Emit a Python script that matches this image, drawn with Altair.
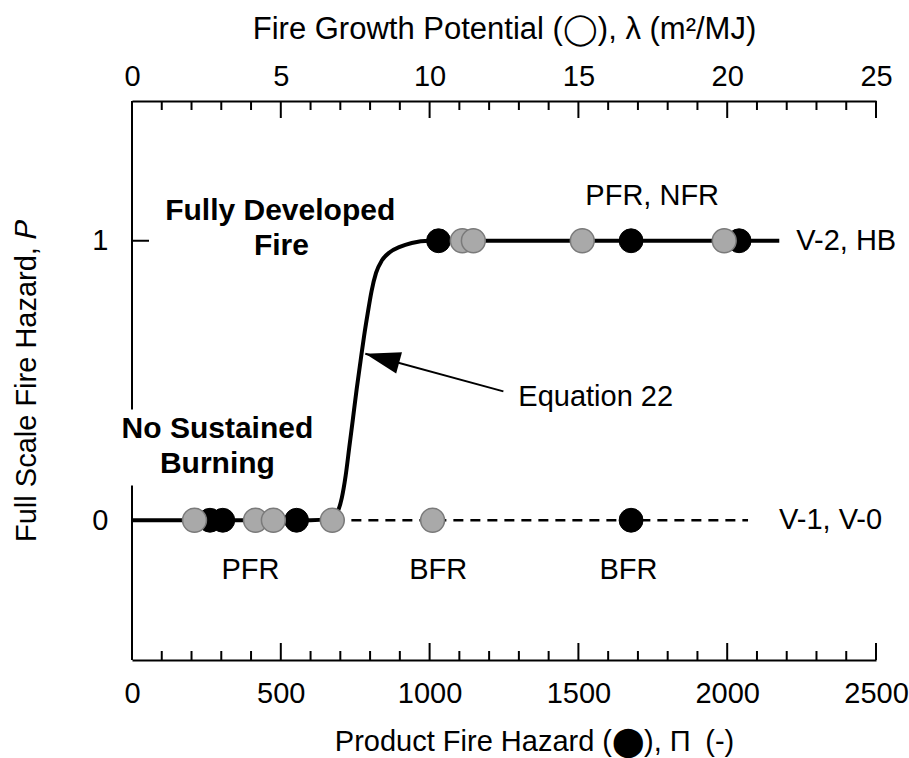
import math
import altair as alt
import pandas as pd

FONT = "Liberation Sans"

# ---------------- data ----------------
# Equation 22 curve (Product Fire Hazard Π, Full scale hazard P)
curve_pi = [0, 600, 660, 690, 705, 718, 730, 742, 755, 768, 780, 792, 805, 820, 840, 865, 900, 940, 1000, 2175]
curve_p = [0, 0, 0.005, 0.03, 0.08, 0.16, 0.26, 0.36, 0.47, 0.57, 0.66, 0.74, 0.82, 0.885, 0.93, 0.958, 0.978, 0.992, 1.0, 1.0]

# dashed "no fire" line
dash_pi = [680, 2070]
dash_p = [0, 0]

# Product Fire Hazard points (black, bottom axis)
black_pi = [262, 305, 553, 1677, 1030, 1677, 2040]
black_p = [0, 0, 0, 0, 1, 1, 1]

# Fire Growth Potential points (grey, top axis)
gray_lam = [2.1, 4.15, 4.75, 6.73, 10.1, 11.1, 11.47, 15.13, 19.9]
gray_p = [0, 0, 0, 0, 0, 1, 1, 1, 1]

# annotations
note_text = ["Fully Developed", "Fire", "No Sustained", "Burning"]
note_pi = [498, 502, 287, 287]
note_p = [1.105, 0.98, 0.325, 0.2]

lab_text = ["PFR", "BFR", "BFR", "PFR, NFR"]
lab_pi = [398, 1029, 1668, 1748]
lab_p = [-0.179, -0.179, -0.179, 1.16]

side_text = ["V-2, HB", "V-1, V-0", "Equation 22"]
side_pi = [2232, 2174, 1298]
side_p = [1.0, 0.0, 0.44]

arrow_from = (1248, 0.461)
arrow_to = (784, 0.596)

# axis ticks
pi_major = [0, 500, 1000, 1500, 2000, 2500]
pi_minor = [v for v in range(100, 2500, 100) if v % 500]
lam_major = [0, 5, 10, 15, 20, 25]
lam_minor = [v for v in range(1, 25) if v % 5]
p_ticks = [0, 1]
# left axis line, interrupted behind "No Sustained Burning"
axis_seg_a = [1.5, 0.396]
axis_seg_b = [0.124, -0.5]

# ---------------- layout ----------------
W, H = 744, 559
LEFT, TOP = 132, 101
MAJ, MIN = 17, 9
FS = 29

x_pi = alt.Scale(domain=[0, 2500], nice=False, zero=False)
x_lam = alt.Scale(domain=[0, 25], nice=False, zero=False)
y_sc = alt.Scale(domain=[-0.5, 1.5], nice=False, zero=False)

curve_df = pd.DataFrame({"Pi": curve_pi, "P": curve_p})
dash_df = pd.DataFrame({"Pi": dash_pi, "P": dash_p})
black_df = pd.DataFrame({"Pi": black_pi, "P": black_p})
gray_df = pd.DataFrame({"lam": gray_lam, "P": gray_p})
note_df = pd.DataFrame({"t": note_text, "Pi": note_pi, "P": note_p})
lab_df = pd.DataFrame({"t": lab_text, "Pi": lab_pi, "P": lab_p})
side_df = pd.DataFrame({"t": side_text, "Pi": side_pi, "P": side_p})
arrow_df = pd.DataFrame({"x0": [arrow_from[0]], "y0": [arrow_from[1]],
                         "x1": [arrow_to[0]], "y1": [arrow_to[1]]})
seg_df = pd.DataFrame({"a": [axis_seg_a[0], axis_seg_b[0]], "b": [axis_seg_a[1], axis_seg_b[1]]})

bottom_axis = alt.Axis(
    orient="bottom", values=pi_major, format="d", ticks=False, tickSize=0,
    domain=True, domainColor="black", domainWidth=2, grid=False,
    labelFont=FONT, labelFontSize=FS, labelColor="black", labelPadding=19,
    labelFlush=False, labelOverlap=False,
    title="Product Fire Hazard (⬤), Π\u2002(-)", titleFont=FONT, titleFontSize=FS,
    titleFontWeight="normal", titleColor="black", titleX=402, titleY=81,
    titleAlign="center", titleBaseline="middle",
)
top_axis = alt.Axis(
    orient="top", values=lam_major, format="d", ticks=False, tickSize=0,
    domain=True, domainColor="black", domainWidth=2, grid=False,
    labelFont=FONT, labelFontSize=FS, labelColor="black", labelPadding=10,
    labelFlush=False, labelOverlap=False,
    title="Fire Growth Potential (◯), λ (m²/MJ)", titleFont=FONT, titleFontSize=31,
    titleFontWeight="normal", titleColor="black", titleX=W / 2, titleY=-72,
    titleAlign="center", titleBaseline="middle",
)
left_axis = alt.Axis(
    orient="left", values=p_ticks, format="d", ticks=False, tickSize=0,
    domain=False, grid=False,
    labelFont=FONT, labelFontSize=FS, labelColor="black", labelPadding=24,
    labelFlush=False,
    title="Full Scale Fire Hazard, 𝑃", titleFont=FONT, titleFontSize=FS,
    titleFontWeight="normal", titleColor="black", titleAngle=270,
    titleX=-106, titleY=H / 2, titleAlign="center", titleBaseline="middle",
)


def XP(f="Pi"):
    return alt.X(f"{f}:Q", scale=x_pi, axis=bottom_axis)


def YP(f="P"):
    return alt.Y(f"{f}:Q", scale=y_sc, axis=left_axis)


def XL(f="lam"):
    return alt.X(f"{f}:Q", scale=x_lam, axis=top_axis)


curve = alt.Chart(curve_df).mark_line(color="black", strokeWidth=4, interpolate="monotone").encode(
    x=XP(), y=YP(), order="Pi:Q",
)
dash = alt.Chart(dash_df).mark_line(color="black", strokeWidth=2.5, strokeDash=[10, 7]).encode(
    x=XP(), y=YP()
)
tick_b_major = alt.Chart(pd.DataFrame({"v": pi_major})).mark_rule(color="black", strokeWidth=2).encode(
    x=XP("v"), y=alt.value(H), y2=alt.value(H - MAJ))
tick_b_minor = alt.Chart(pd.DataFrame({"v": pi_minor})).mark_rule(color="black", strokeWidth=2).encode(
    x=XP("v"), y=alt.value(H), y2=alt.value(H - MIN))
left_line = alt.Chart(seg_df).mark_rule(color="black", strokeWidth=2).encode(
    x=alt.value(0), y=YP("a"), y2="b:Q")
left_ticks = alt.Chart(pd.DataFrame({"v": p_ticks})).mark_rule(color="black", strokeWidth=2).encode(
    x=alt.value(0), x2=alt.value(MAJ), y=YP("v"))

arrow_line = alt.Chart(arrow_df).mark_rule(color="black", strokeWidth=2).encode(
    x=XP("x0"), y=YP("y0"), x2="x1:Q", y2="y1:Q")
dx = (arrow_to[0] - arrow_from[0]) * W / 2500
dy = -(arrow_to[1] - arrow_from[1]) * H / 2
head_angle = math.degrees(math.atan2(dx, -dy)) % 360
arrow_head = alt.Chart(arrow_df).mark_point(
    shape="M0,0L0.63,2L-0.63,2Z", size=1225, angle=head_angle, filled=True,
    color="black", opacity=1, strokeWidth=0,
).encode(x=XP("x1"), y=YP("y1"))

black_pts = alt.Chart(black_df).mark_circle(size=570, color="black", opacity=1,
                                             stroke="black", strokeWidth=1).encode(x=XP(), y=YP())

notes = alt.Chart(note_df).mark_text(font=FONT, fontSize=30, fontWeight="bold", color="black",
                                     align="center", baseline="middle").encode(
    x=XP(), y=YP(), text="t:N")
labs = alt.Chart(lab_df).mark_text(font=FONT, fontSize=FS, color="black",
                                   align="center", baseline="middle").encode(
    x=XP(), y=YP(), text="t:N")
sides = alt.Chart(side_df).mark_text(font=FONT, fontSize=FS, color="black",
                                     align="left", baseline="middle").encode(
    x=XP(), y=YP(), text="t:N")

bottom_group = alt.layer(
    curve, tick_b_major, tick_b_minor, left_line, left_ticks, dash,
    arrow_line, arrow_head, black_pts, notes, labs, sides,
)

gray_pts = alt.Chart(gray_df).mark_circle(size=570, color="#a9a9a9", opacity=1,
                                           stroke="#7a7a7a", strokeWidth=1.5).encode(
    x=XL(), y=YP())
tick_t_major = alt.Chart(pd.DataFrame({"v": lam_major})).mark_rule(color="black", strokeWidth=2).encode(
    x=XL("v"), y=alt.value(0), y2=alt.value(MAJ))
tick_t_minor = alt.Chart(pd.DataFrame({"v": lam_minor})).mark_rule(color="black", strokeWidth=2).encode(
    x=XL("v"), y=alt.value(0), y2=alt.value(MIN))

top_group = alt.layer(gray_pts, tick_t_major, tick_t_minor)

chart = alt.layer(bottom_group, top_group).resolve_scale(x="independent").properties(
    width=W, height=H,
    padding={"left": LEFT, "top": TOP, "right": 909 - LEFT - W, "bottom": 758 - TOP - H},
    autosize=alt.AutoSizeParams(type="none"),
    background="white",
).configure_view(stroke=None)

chart.save("out.html", embed_options={"renderer": "svg", "actions": False})
